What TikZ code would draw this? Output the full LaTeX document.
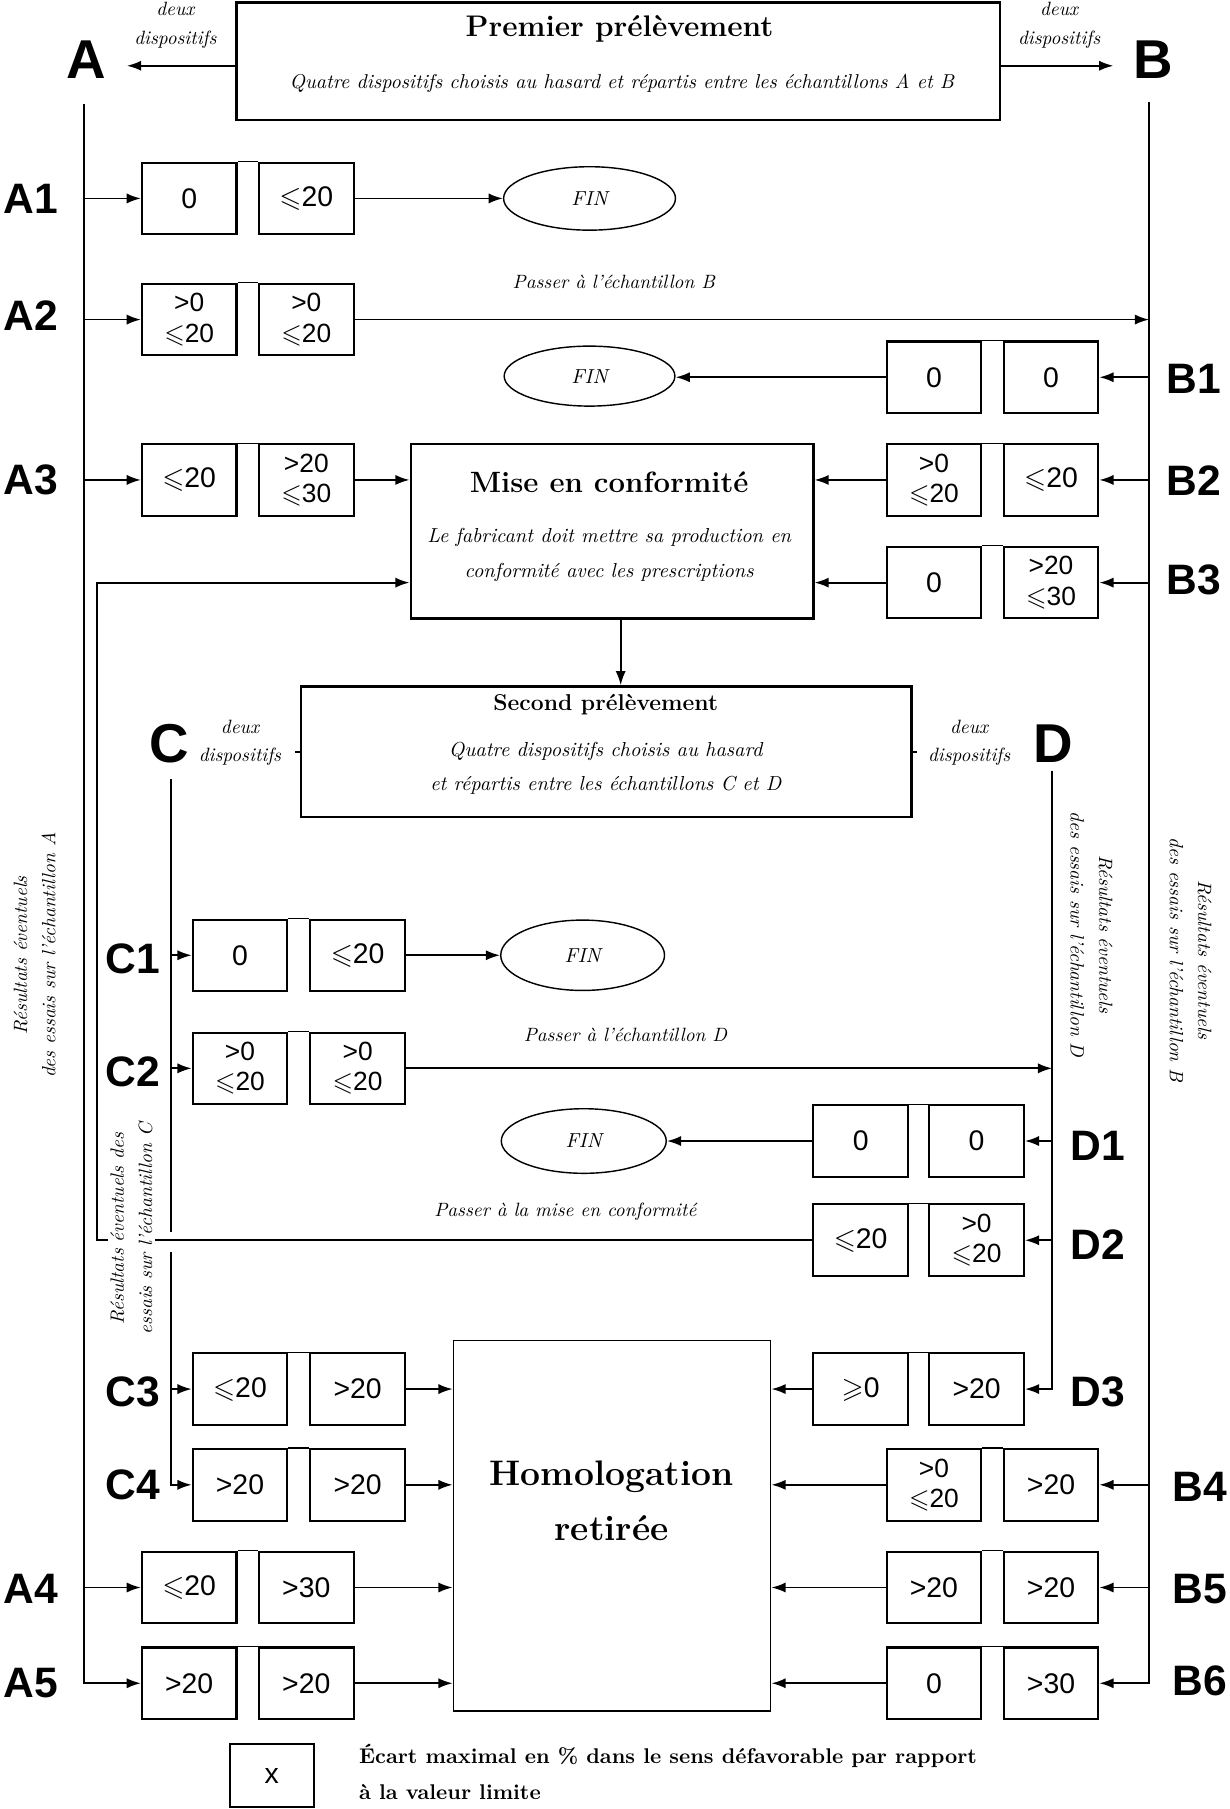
\documentclass[tikz,border=0pt]{standalone}
\usepackage{amsmath,amssymb}
\usepackage{fontspec}
\newfontfamily\arial{Liberation Sans}
\usepackage{tikz}
\usetikzlibrary{arrows.meta,shapes.geometric}
\newcommand{\leqs}{$\leqslant$}
\newcommand{\geqs}{$\geqslant$}

\begin{document}
\begin{tikzpicture}[x=0.02cm,y=-0.02cm,
  val/.style={draw,line width=1pt,minimum width=1.64cm,minimum height=1.24cm,inner sep=0pt,align=center,font=\arial\fontsize{14}{14}\selectfont},
  twoval/.style={val,font=\arial\fontsize{13}{15}\selectfont},
  rowlbl/.style={font=\arial\bfseries\fontsize{21}{21}\selectfont},
  biglbl/.style={font=\arial\bfseries\fontsize{27}{27}\selectfont},
  fin/.style={draw,ellipse,line width=0.7pt,inner sep=0pt,font=\itshape\fontsize{10}{12}\selectfont},
  frame/.style={draw,line width=1.2pt,inner sep=0pt},
  note/.style={font=\itshape\fontsize{9.5}{14}\selectfont,align=center},
  arr/.style={-{Latex[length=7pt,width=5pt]},line width=0.9pt}]
\useasboundingbox (0,0) rectangle (1066,1568);

\node[frame,minimum width=13.24cm,minimum height=2.04cm](premier) at (536,53){};
\node[font=\bfseries\fontsize{14.7}{16}\selectfont](premierT) at (537,25){Premier prélèvement};
\node[font=\itshape\fontsize{9.9}{12}\selectfont](premierS) at (539,72){Quatre dispositifs choisis au hasard et répartis entre les échantillons A et B};
\node[biglbl](A) at (75,52){A};
\node[biglbl](B) at (1000,52){B};
\node[note](dA) at (152,22){deux\\dispositifs};
\node[note](dB) at (918,22){deux\\dispositifs};
\coordinate (aHead) at (110,57);
\coordinate (bHead) at (965,57);
\draw[arr](premier.west |- aHead)--(aHead);
\draw[arr](premier.east |- bHead)--(bHead);

\coordinate (aTop) at (73,90);
\coordinate (bTop) at (996,88);
\coordinate (retL) at (84,0);

\node[rowlbl](A1) at (27,172){A1};
\node[rowlbl](A2) at (27,274){A2};
\node[rowlbl](A3) at (27,416){A3};
\node[rowlbl](A4) at (27,1377){A4};
\node[rowlbl](A5) at (27,1459){A5};
\node[rowlbl](B1) at (1035,328){B1};
\node[rowlbl](B2) at (1035,417){B2};
\node[rowlbl](B3) at (1035,503){B3};
\node[rowlbl](B4) at (1040,1289){B4};
\node[rowlbl](B5) at (1040,1377){B5};
\node[rowlbl](B6) at (1040,1457){B6};

\node[val](a1l) at (164,172){0};
\node[val](a1r) at (265.5,172){\leqs20};
\node[fin,minimum width=2.98cm,minimum height=1.1cm](fin1) at (511,172){FIN};
\node[twoval](a2l) at (164,277){>0\\\leqs20};
\node[twoval](a2r) at (265.5,277){>0\\\leqs20};
\node[note](passB) at (532,244){Passer à l'échantillon B};
\node[val](b1l) at (809.5,327){0};
\node[val](b1r) at (911,327){0};
\node[fin,minimum width=2.96cm,minimum height=1.04cm](fin2) at (511,326){FIN};
\node[val](a3l) at (164,416){\leqs20};
\node[twoval](a3r) at (265.5,416){>20\\\leqs30};
\node[twoval](b2l) at (809.5,416){>0\\\leqs20};
\node[val](b2r) at (911,416){\leqs20};
\node[val](b3l) at (809.5,505){0};
\node[twoval](b3r) at (911,505){>20\\\leqs30};

\node[frame,minimum width=6.98cm,minimum height=3.02cm](mise) at (530.5,460.5){};
\node[font=\bfseries\fontsize{14.5}{16}\selectfont](miseT) at (528,418){Mise en conformité};
\node[font=\itshape\fontsize{10}{17}\selectfont,align=center](miseS) at (528,481){Le fabricant doit mettre sa production en\\conformité avec les prescriptions};

\draw[arr](aTop |- a1l)--(a1l);
\draw[arr](a1r.east)--(fin1.west |- a1r.east);
\draw[arr](aTop |- a2l)--(a2l);
\draw[arr](a2r)--(bTop |- a2r);
\draw[arr](bTop |- b1r)--(b1r);
\draw[arr](b1l.west)--(fin2.east |- b1l.west);
\draw[arr](aTop |- a3l)--(a3l);
\draw[arr](a3r)--(mise.west |- a3r);
\draw[arr](bTop |- b2r)--(b2r);
\draw[arr](b2l)--(mise.east |- b2l);
\draw[arr](bTop |- b3r)--(b3r);
\draw[arr](b3l)--(mise.east |- b3l);

\node[frame,minimum width=10.58cm,minimum height=2.26cm](second) at (525.5,651.5){};
\node[font=\bfseries\fontsize{11.3}{13}\selectfont](secondT) at (525,611){Second prélèvement};
\node[font=\itshape\fontsize{10}{16.5}\selectfont,align=center](secondS) at (525,666){Quatre dispositifs choisis au hasard\\et répartis entre les échantillons C et D};
\draw[arr]([xshift=0.15cm]mise.south)--([xshift=0.15cm]mise.south |- second.north);
\node[biglbl](C) at (147,645){C};
\node[biglbl](D) at (913,645){D};
\node[note](dC) at (208,644){deux\\dispositifs};
\node[note](dD) at (840,644){deux\\dispositifs};
\draw[line width=1pt](second.west)--++(-4,0);
\draw[line width=1pt](second.east)--++(4,0);

\coordinate (cTop) at (148,675);
\coordinate (cGapT) at (148,1068);
\coordinate (cGapB) at (148,1085);
\coordinate (dTop) at (912,668);

\node[rowlbl,anchor=east](C1) at (145,831){C1};
\node[rowlbl,anchor=east](C2) at (145,929){C2};
\node[rowlbl,anchor=east](C3) at (145,1206){C3};
\node[rowlbl,anchor=east](C4) at (145,1287){C4};
\node[rowlbl,anchor=west](D1) at (922,993){D1};
\node[rowlbl,anchor=west](D2) at (922,1079){D2};
\node[rowlbl,anchor=west](D3) at (922,1206){D3};

\node[val](c1l) at (208,828){0};
\node[val](c1r) at (310,828){\leqs20};
\node[fin,minimum width=2.84cm,minimum height=1.22cm](fin3) at (505,828){FIN};
\node[twoval](c2l) at (208,926){>0\\\leqs20};
\node[twoval](c2r) at (310,926){>0\\\leqs20};
\node[note](passD) at (542,897){Passer à l'échantillon D};
\node[val](d1l) at (746,989){0};
\node[val](d1r) at (846.5,989){0};
\node[fin,minimum width=2.86cm,minimum height=1.12cm](fin4) at (506,989){FIN};
\node[val](d2l) at (746,1075){\leqs20};
\node[twoval](d2r) at (846.5,1075){>0\\\leqs20};
\node[note](passM) at (490,1050){Passer à la mise en conformité};

\node[frame,line width=0.8pt,minimum width=5.5cm,minimum height=6.42cm](homol) at (530.5,1322.5){};
\node[font=\bfseries\fontsize{17.5}{27}\selectfont,align=center](homolT) at (530,1301){Homologation\\retirée};

\node[val](c3l) at (208,1204){\leqs20};
\node[val](c3r) at (310,1204){>20};
\node[val](d3l) at (746,1204){\geqs0};
\node[val](d3r) at (846.5,1204){>20};
\node[val](c4l) at (208,1287){>20};
\node[val](c4r) at (310,1287){>20};
\node[twoval](b4l) at (809.5,1287){>0\\\leqs20};
\node[val](b4r) at (911,1287){>20};
\node[val](a4l) at (164,1376){\leqs20};
\node[val](a4r) at (265.5,1376){>30};
\node[val](b5l) at (809.5,1376){>20};
\node[val](b5r) at (911,1376){>20};
\node[val](a5l) at (164,1459){>20};
\node[val](a5r) at (265.5,1459){>20};
\node[val](b6l) at (809.5,1459){0};
\node[val](b6r) at (911,1459){>30};

\foreach \p in {a1,a2,a3,a4,a5,b1,b2,b3,b4,b5,b6,c1,c2,c3,c4,d1,d2,d3}
  \draw[line width=0.6pt](\p l.north east)--(\p r.north west);

\draw[arr](cTop |- c1l)--(c1l);
\draw[arr](c1r.east)--(fin3.west |- c1r.east);
\draw[arr](cTop |- c2l)--(c2l);
\draw[arr](c2r)--(dTop |- c2r);
\draw[arr](dTop |- d1r)--(d1r);
\draw[arr](d1l.west)--(fin4.east |- d1l.west);
\draw[arr](dTop |- d2r)--(d2r);
\draw[arr](d2l)--(retL |- d2l)--(retL |- b3l)--(mise.west |- b3l);
\draw[arr](cTop |- c3l)--(c3l);
\draw[arr](c3r)--(homol.west |- c3r);
\draw[arr](d3l)--(homol.east |- d3l);
\draw[arr](c4r)--(homol.west |- c4r);
\draw[arr](bTop |- b4r)--(b4r);
\draw[arr](b4l)--(homol.east |- b4l);
\draw[arr](aTop |- a4l)--(a4l);
\draw[arr](a4r)--(homol.west |- a4r);
\draw[arr](bTop |- b5r)--(b5r);
\draw[arr](b5l)--(homol.east |- b5l);
\draw[arr](a5r)--(homol.west |- a5r);
\draw[arr](b6l)--(homol.east |- b6l);

\draw[line width=0.9pt](cTop)--(cGapT);
\draw[arr](cGapB)--(cTop |- c4l)--(c4l);
\draw[arr](dTop)--(dTop |- d3r)--(d3r);
\draw[arr](aTop)--(aTop |- a5l)--(a5l);
\draw[arr](bTop)--(bTop |- b6r)--(b6r);

\node[note,rotate=90](resA) at (30,828){Résultats éventuels\\des essais sur l'échantillon A};
\node[note,rotate=90,fill=white,inner sep=1pt](resC) at (114,1065){Résultats éventuels des\\essais sur l'échantillon C};
\node[note,rotate=-90](resD) at (946,810){Résultats éventuels\\des essais sur l'échantillon D};
\node[note,rotate=-90](resB) at (1032,832){Résultats éventuels\\des essais sur l'échantillon B};

\node[val,minimum width=1.46cm,minimum height=1.08cm](key) at (235.5,1539){x};
\node[anchor=west,font=\bfseries\fontsize{10.5}{17.5}\selectfont,align=left](keyT) at (305,1536){Écart maximal en \% dans le sens défavorable par rapport\\à la valeur limite};
\end{tikzpicture}
\end{document}
